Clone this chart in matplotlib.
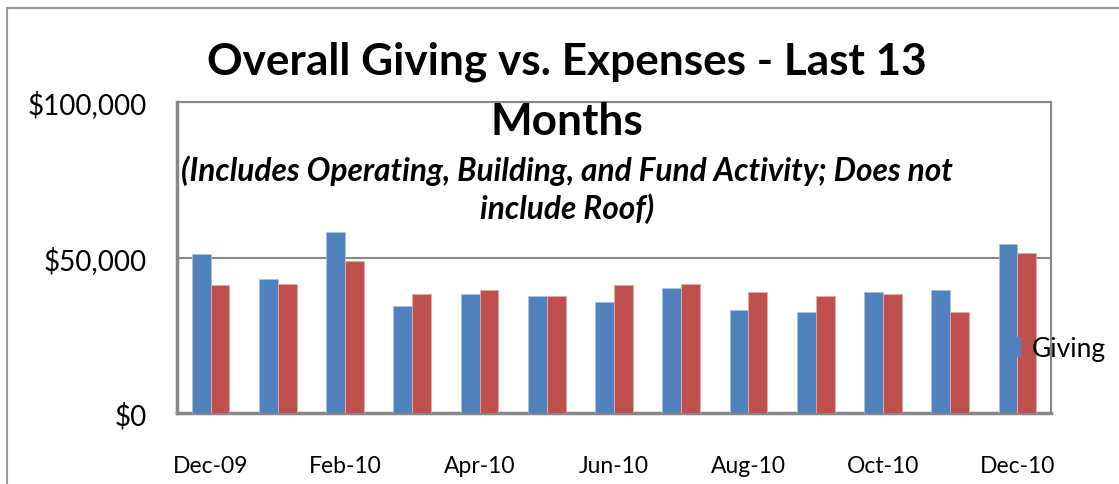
import matplotlib
matplotlib.use('Agg')
import matplotlib.pyplot as plt
import numpy as np
from matplotlib.patches import Patch, Rectangle
from matplotlib.ticker import FuncFormatter

plt.rcParams['font.family'] = ['Lato', 'DejaVu Sans']

months = ["Dec-09", "Jan-10", "Feb-10", "Mar-10", "Apr-10", "May-10", "Jun-10",
          "Jul-10", "Aug-10", "Sep-10", "Oct-10", "Nov-10", "Dec-10"]
giving = [51000, 43000, 58100, 34400, 38400, 37700, 35700,
          40300, 33100, 32500, 39000, 39700, 54200]
expenses = [41000, 41600, 48900, 38400, 39700, 37700, 41000,
            41600, 39000, 37700, 38400, 32500, 51500]

BLUE = "#4F81BD"
RED = "#C0504D"
GRAY = "#878787"

fig = plt.figure(figsize=(11.19, 4.85), dpi=100)
fig.patches.append(Rectangle((7 / 1119, -0.2), 1.5, 1.2 - 9 / 485,
                             transform=fig.transFigure, fill=False,
                             edgecolor="#9a9a9a", linewidth=1.5))

ax = fig.add_axes([177 / 1119, 1 - 414 / 485, 874 / 1119, 311 / 485])

x = np.arange(len(months))
w = 0.28
ax.bar(x - w / 2, giving, w, color=BLUE, edgecolor="#a9c1e0", linewidth=0.6, zorder=3)
ax.bar(x + w / 2, expenses, w, color=RED, edgecolor="#e6a9a8", linewidth=0.6, zorder=3)

ax.set_xlim(-0.5, len(months) - 0.5)
ax.set_ylim(0, 100000)
ax.set_yticks([0, 50000, 100000])
ax.yaxis.set_major_formatter(FuncFormatter(lambda v, p: f"${v:,.0f}"))
ax.set_xticks(x[::2])
ax.set_xticklabels(months[::2])
ax.tick_params(axis='y', length=0, pad=22, labelsize=20)
ax.tick_params(axis='x', length=0, pad=30, labelsize=16.5)
ax.grid(axis='y', color=GRAY, linewidth=1.5, zorder=1)

for side in ["left", "bottom"]:
    ax.spines[side].set_color(GRAY)
    ax.spines[side].set_linewidth(2.5)
for side in ["top", "right"]:
    ax.spines[side].set_color(GRAY)
    ax.spines[side].set_linewidth(1.5)

ax.legend([Patch(facecolor=BLUE, edgecolor="none")], ["Giving"], loc="center left",
          bbox_to_anchor=(1005 / 1119, 1 - 350 / 485),
          bbox_transform=fig.transFigure, frameon=False, fontsize=19,
          handlelength=0.6, handleheight=0.8, handletextpad=0.4,
          borderpad=0, borderaxespad=0)

fig.text(567 / 1119, 1 - 62 / 485, "Overall Giving vs. Expenses - Last 13",
         ha="center", va="center", fontsize=31.8, fontweight="bold")
fig.text(567 / 1119, 1 - 122 / 485, "Months",
         ha="center", va="center", fontsize=31.8, fontweight="bold")
fig.text(567 / 1119, 1 - 171 / 485, "(Includes Operating, Building, and Fund Activity; Does not",
         ha="center", va="center", fontsize=22.8, fontweight="bold", style="italic")
fig.text(567 / 1119, 1 - 209 / 485, "include Roof)",
         ha="center", va="center", fontsize=22.8, fontweight="bold", style="italic")

fig.savefig("out.png", dpi=100)
